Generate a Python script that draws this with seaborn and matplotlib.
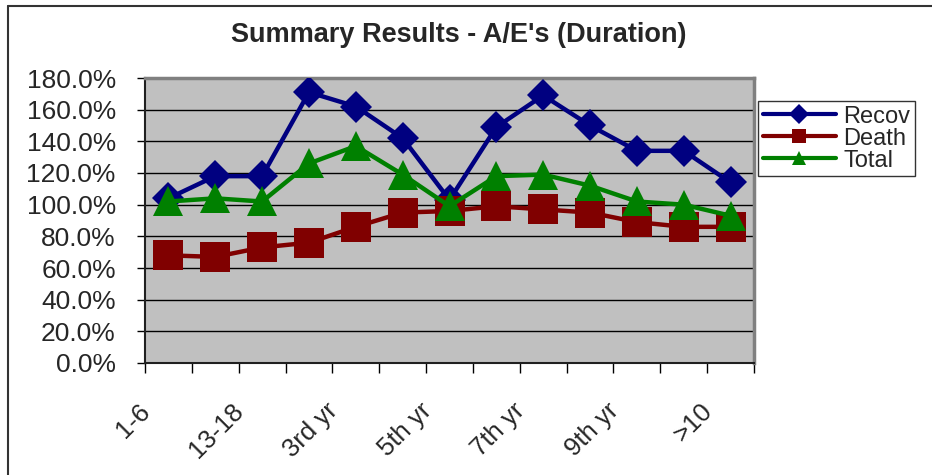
import matplotlib
matplotlib.use("Agg")
import matplotlib.pyplot as plt
import matplotlib.transforms as mtransforms
from matplotlib.lines import Line2D
from matplotlib.ticker import FuncFormatter, MultipleLocator, FixedLocator
import seaborn as sns
import pandas as pd

categories = ["1-6", "7-12", "13-18", "19-24", "3rd yr", "4th yr", "5th yr",
              "6th yr", "7th yr", "8th yr", "9th yr", "10th yr", ">10"]
recov = [104, 118, 118, 171, 162, 142, 103, 149, 169, 150, 134, 134, 114]
death = [68, 67, 73, 76, 86, 95, 96, 99, 97, 95, 89, 86, 86]
total = [102, 104, 102, 126, 137, 119, 99, 118, 119, 112, 102, 100, 93]
series_names = ["Recov", "Death", "Total"]
title = "Summary Results - A/E's (Duration)"

sns.set_theme(style="white")
plt.rcParams["font.family"] = ["Liberation Sans", "DejaVu Sans"]

fig = plt.figure(figsize=(9.32, 4.75), dpi=100)
W, H = 932, 475
ax = fig.add_axes([145 / W, 1 - 363 / H, (754 - 145) / W, (363 - 78) / H])
ax.set_facecolor("#C0C0C0")

styles = {
    "Recov": dict(color="#000080", marker="D", markersize=16),
    "Death": dict(color="#800000", marker="s", markersize=22),
    "Total": dict(color="#008000", marker="^", markersize=22),
}
data = {"Recov": recov, "Death": death, "Total": total}
x_pos = list(range(len(categories)))
for name in series_names:
    st = styles[name]
    sns.lineplot(x=x_pos, y=data[name], ax=ax, color=st["color"], marker=st["marker"],
                 markersize=st["markersize"], markeredgewidth=0, linewidth=3.2,
                 sort=False, legend=False, zorder=3)

ax.set_xlim(-0.5, len(categories) - 0.5)
ax.set_ylim(0, 180)
ax.yaxis.set_major_locator(MultipleLocator(20))
ax.yaxis.set_major_formatter(FuncFormatter(lambda v, p: f"{v:.1f}%"))
ax.grid(axis="y", color="black", linewidth=1)
ax.set_axisbelow(True)

major = list(range(0, len(categories), 2))
ax.xaxis.set_major_locator(FixedLocator(major))
ax.set_xticklabels([categories[i] for i in major])
ax.xaxis.set_minor_locator(FixedLocator([i - 0.5 for i in range(len(categories) + 1)]))
ax.tick_params(axis="x", which="major", length=0, pad=32, labelsize=18.5)
ax.tick_params(axis="x", which="minor", length=7, width=1, color="black", bottom=True)
ax.tick_params(axis="y", which="major", length=6, width=1, color="black", pad=15,
               labelsize=19, left=True)
offset = mtransforms.ScaledTranslation(-22 / 100, 0, fig.dpi_scale_trans)
for lab in ax.get_xticklabels():
    lab.set_rotation(45)
    lab.set_ha("right")
    lab.set_va("center")
    lab.set_rotation_mode("anchor")
    lab.set_transform(lab.get_transform() + offset)

for side in ["left", "bottom"]:
    ax.spines[side].set_color("#202020")
    ax.spines[side].set_linewidth(1.5)
for side in ["top", "right"]:
    ax.spines[side].set_color("#808080")
    ax.spines[side].set_linewidth(2.5)
ax.set_xlabel("")
ax.set_ylabel("")

fig.text(459 / W, 1 - 35 / H, title, ha="center", va="center",
         fontsize=19.5, fontweight="bold")

handles = [Line2D([], [], color=styles[n]["color"], marker=styles[n]["marker"],
                  markersize=10, linewidth=3, markeredgewidth=0) for n in series_names]
leg = fig.legend(handles, series_names, loc="upper left",
                 bbox_to_anchor=(758 / W, 1 - 101 / H), bbox_transform=fig.transFigure,
                 fontsize=17, frameon=True, fancybox=False, shadow=False,
                 handlelength=3.1, labelspacing=0.0, borderpad=0.2,
                 handletextpad=0.3, borderaxespad=0)
leg.get_frame().set_edgecolor("black")
leg.get_frame().set_linewidth(1)

fig.add_artist(Line2D([8 / W, 1], [1 - 6 / H, 1 - 6 / H], transform=fig.transFigure,
                      color="#333333", linewidth=1.5))
fig.add_artist(Line2D([8 / W, 8 / W], [0, 1 - 6 / H], transform=fig.transFigure,
                      color="#333333", linewidth=1.5))

fig.savefig("out.png", dpi=100)
